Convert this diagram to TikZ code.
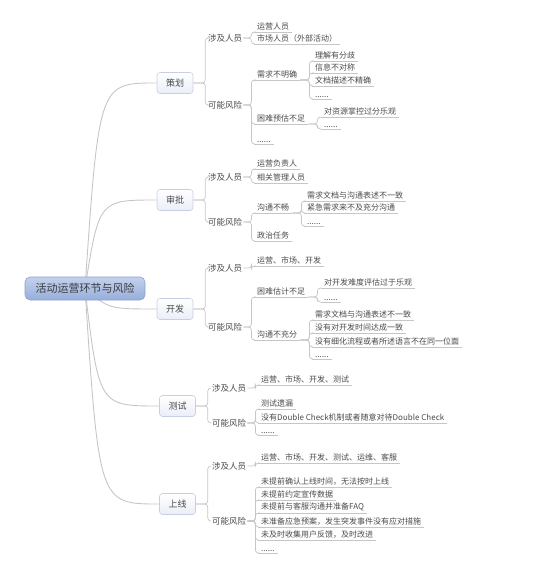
\documentclass[tikz,border=0pt]{standalone}
\usepackage{fontspec}
\setmainfont{Noto Sans CJK SC}
\usetikzlibrary{calc}
\definecolor{tc}{HTML}{4A4A4A}
\definecolor{lc}{HTML}{C6C6C6}
\definecolor{rootTop}{HTML}{C3D1EC}
\definecolor{rootBot}{HTML}{97AEDA}
\definecolor{rootBd}{HTML}{8CA2CF}
\definecolor{boxFill}{HTML}{EAEEF9}
\definecolor{boxBd}{HTML}{C8CFE2}
\pgfdeclarelayer{bg}
\pgfsetlayers{bg,main}
\tikzset{
  rootbox/.style={draw=rootBd, line width=0.6pt, top color=rootTop, bottom color=rootBot,
    rounded corners=5pt, minimum width=120pt, minimum height=23pt, inner sep=0pt,
    text=tc!80!black, font=\fontsize{11}{12}\selectfont},
  topicbox/.style={draw=boxBd, line width=0.6pt, top color=white, bottom color=boxFill,
    rounded corners=3pt, minimum width=36pt, minimum height=21pt, inner sep=0pt,
    text=tc, font=\fontsize{9}{10}\selectfont},
  subtopic/.style={anchor=west, inner sep=1pt, text=tc, font=\fontsize{8.5}{9.5}\selectfont},
  uline/.style={draw=lc, line width=0.7pt},
  leaf/.style={anchor=south west, inner xsep=3pt, inner ysep=1.4pt, text=tc,
    font=\fontsize{8}{9}\selectfont,
    append after command={(\tikzlastnode.south west) edge[uline] (\tikzlastnode.south east)}},
  conn/.style={draw=lc, line width=0.7pt, rounded corners=3pt},
  mainconn/.style={draw=lc, line width=0.9pt}
}
\begin{document}
\begin{tikzpicture}[x=1pt,y=-1pt]
\useasboundingbox (0,0) rectangle (557,577);

% root and topics
\node[rootbox] (root) at (85,288.5) {活动运营环节与风险};
\node[topicbox] (ch) at (175,83) {策划};
\node[topicbox] (sp) at (175,200) {审批};
\node[topicbox] (kf) at (175,309) {开发};
\node[topicbox] (cs) at (177.5,406) {测试};
\node[topicbox] (sx) at (177.5,504) {上线};

% ---------- 策划 ----------
\node[subtopic] (chA) at (207,38) {涉及人员};
\node[subtopic] (chB) at (207,105) {可能风险};
\node[leaf] (chA1) at (254,32) {运营人员};
\node[leaf] (chA2) at (254,44) {市场人员（外部活动）};
\node[leaf] (chB1) at (254,80) {需求不明确};
\node[leaf] (chB2) at (254,124) {困难预估不足};
\node[leaf] (chB3) at (254,144) {......};
\node[leaf] (chB11) at (312,61) {理解有分歧};
\node[leaf] (chB12) at (312,73) {信息不对称};
\node[leaf] (chB13) at (312,86) {文档描述不精确};
\node[leaf] (chB14) at (312,99) {......};
\node[leaf] (chB21) at (321,117) {对资源掌控过分乐观};
\node[leaf] (chB22) at (321,129) {......};

% ---------- 审批 ----------
\node[subtopic] (spA) at (207,177) {涉及人员};
\node[subtopic] (spB) at (207,222) {可能风险};
\node[leaf] (spA1) at (254,169) {运营负责人};
\node[leaf] (spA2) at (254,183) {相关管理人员};
\node[leaf] (spB1) at (254,213) {沟通不畅};
\node[leaf] (spB2) at (254,241) {政治任务};
\node[leaf] (spB11) at (304,201) {需求文档与沟通表述不一致};
\node[leaf] (spB12) at (304,213) {紧急需求来不及充分沟通};
\node[leaf] (spB13) at (304,226) {......};

% ---------- 开发 ----------
\node[subtopic] (kfA) at (207,268) {涉及人员};
\node[subtopic] (kfB) at (207,327) {可能风险};
\node[leaf] (kfA1) at (254,266) {运营、市场、开发};
\node[leaf] (kfB1) at (254,297) {困难估计不足};
\node[leaf] (kfB2) at (254,340) {沟通不充分};
\node[leaf] (kfB11) at (321,288) {对开发难度评估过于乐观};
\node[leaf] (kfB12) at (321,302) {......};
\node[leaf] (kfB21) at (312,320) {需求文档与沟通表述不一致};
\node[leaf] (kfB22) at (312,333) {没有对开发时间达成一致};
\node[leaf] (kfB23) at (312,347) {没有细化流程或者所述语言不在同一位面};
\node[leaf] (kfB24) at (312,359) {......};

% ---------- 测试 ----------
\node[subtopic] (csA) at (211,388) {涉及人员};
\node[subtopic] (csB) at (211,423) {可能风险};
\node[leaf] (csA1) at (258,385) {运营、市场、开发、测试};
\node[leaf] (csB1) at (258,409) {测试遗漏};
\node[leaf] (csB2) at (258,423) {没有Double Check机制或者随意对待Double Check};
\node[leaf] (csB3) at (258,435) {......};

% ---------- 上线 ----------
\node[subtopic] (sxA) at (211,466) {涉及人员};
\node[subtopic] (sxB) at (211,521) {可能风险};
\node[leaf] (sxA1) at (258,463) {运营、市场、开发、测试、运维、客服};
\node[leaf] (sxB1) at (258,487) {未提前确认上线时间，无法按时上线};
\node[leaf] (sxB2) at (258,500) {未提前约定宣传数据};
\node[leaf] (sxB3) at (258,513) {未提前与客服沟通并准备FAQ};
\node[leaf] (sxB4) at (258,527) {未准备应急预案，发生突发事件没有应对措施};
\node[leaf] (sxB5) at (258,540) {未及时收集用户反馈，及时改进};
\node[leaf] (sxB6) at (258,553) {......};

\begin{pgfonlayer}{bg}
% main curves
\foreach \t in {ch,sp,cs,sx}{
  \draw[mainconn] (root.center) .. controls ($(root.center |- \t.west)+(14,0)$) .. (\t.west);
}
\draw[mainconn] (root.center) .. controls ($(root.center |- kf.west)+(24,0)$) .. (kf.west);

% topic -> subtopics
\foreach \t/\s in {ch/12,sp/12,kf/12,cs/12,sx/12}{
  \draw[conn] (\t.east) -- ++(\s,0) |- (\t A.west);
  \draw[conn] (\t.east) -- ++(\s,0) |- (\t B.west);
}

% subtopic -> leaves
\foreach \c in {chA1,chA2}{\draw[conn] (chA.east) -- ++(8,0) |- (\c.south west);}
\foreach \c in {chB1,chB2,chB3}{\draw[conn] (chB.east) -- ++(8,0) |- (\c.south west);}
\foreach \c in {chB11,chB12,chB13,chB14}{\draw[conn] (chB1.south east) -- ++(9,0) |- (\c.south west);}
\foreach \c in {chB21,chB22}{\draw[conn] (chB2.south east) -- ++(9,0) |- (\c.south west);}

\foreach \c in {spA1,spA2}{\draw[conn] (spA.east) -- ++(8,0) |- (\c.south west);}
\foreach \c in {spB1,spB2}{\draw[conn] (spB.east) -- ++(8,0) |- (\c.south west);}
\foreach \c in {spB11,spB12,spB13}{\draw[conn] (spB1.south east) -- ++(9,0) |- (\c.south west);}

\draw[conn] (kfA.east) -- ++(8,0) |- (kfA1.south west);
\foreach \c in {kfB1,kfB2}{\draw[conn] (kfB.east) -- ++(8,0) |- (\c.south west);}
\foreach \c in {kfB11,kfB12}{\draw[conn] (kfB1.south east) -- ++(9,0) |- (\c.south west);}
\foreach \c in {kfB21,kfB22,kfB23,kfB24}{\draw[conn] (kfB2.south east) -- ++(9,0) |- (\c.south west);}

\draw[conn] (csA.east) -- ++(8,0) |- (csA1.south west);
\foreach \c in {csB1,csB2,csB3}{\draw[conn] (csB.east) -- ++(8,0) |- (\c.south west);}

\draw[conn] (sxA.east) -- ++(8,0) |- (sxA1.south west);
\foreach \c in {sxB1,sxB2,sxB3,sxB4,sxB5,sxB6}{\draw[conn] (sxB.east) -- ++(8,0) |- (\c.south west);}
\end{pgfonlayer}
\end{tikzpicture}
\end{document}
